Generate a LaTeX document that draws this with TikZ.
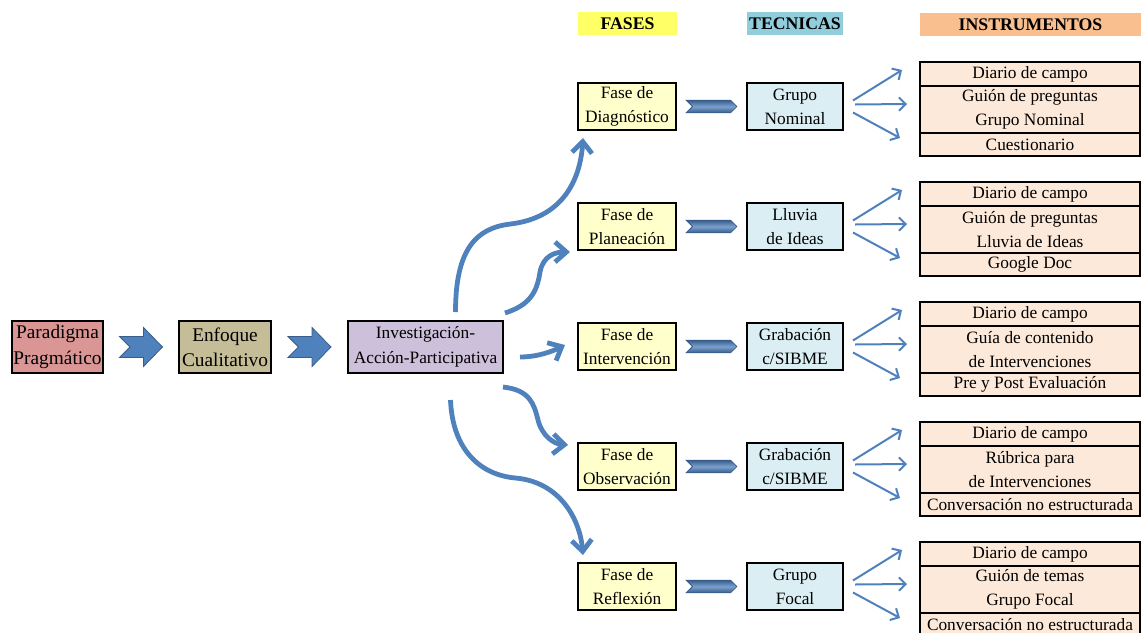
\documentclass[tikz,border=0pt]{standalone}
\usepackage{fontspec}
\setmainfont{Liberation Serif}
\usetikzlibrary{arrows.meta, positioning, calc, shapes.symbols}
\definecolor{parfill}{RGB}{217,150,148}
\definecolor{enffill}{RGB}{196,189,151}
\definecolor{invfill}{RGB}{204,192,218}
\definecolor{fasefill}{RGB}{255,255,204}
\definecolor{tecfill}{RGB}{219,238,244}
\definecolor{insfill}{RGB}{253,233,217}
\definecolor{hfase}{RGB}{255,255,102}
\definecolor{htec}{RGB}{146,205,220}
\definecolor{hins}{RGB}{250,191,143}
\definecolor{azul}{RGB}{79,129,189}
\definecolor{azuloscuro}{RGB}{56,93,138}

\begin{document}
\begin{tikzpicture}[x=0.75pt, y=-0.75pt,
  every node/.style={inner sep=0pt, outer sep=0pt},
  base/.style={draw, line width=1.1pt, align=center,
    font=\fontsize{13}{18}\selectfont},
  inicio/.style={base, minimum height=39pt, font=\fontsize{14.5}{19}\selectfont},
  fase/.style={base, fill=fasefill, minimum width=73.5pt, minimum height=35.25pt},
  tec/.style={base, fill=tecfill, minimum width=72pt, minimum height=35.25pt},
  ins/.style={base, fill=insfill, minimum width=165pt},
  hdr/.style={font=\fontsize{13.3}{15}\selectfont\bfseries, minimum height=17.25pt},
  bloque/.style={fill=azul, draw=azuloscuro, line width=0.6pt},
  chevron/.style={signal, signal from=west, signal to=east, minimum width=38pt,
    minimum height=9.5pt, draw=azuloscuro, line width=0.6pt,
    top color=azuloscuro, bottom color=azuloscuro, middle color=azul!75!white},
  flecha/.style={draw=azul, line width=3.6pt, -{Straight Barb[length=8.5pt,width=15pt]}},
  fina/.style={draw=azul, line width=1.5pt, -{Straight Barb[length=5pt,width=10pt]}}]
  \useasboundingbox (0,0) rectangle (1141,632);
  \clip (0,0) rectangle (1141,632);

  % cadena de la izquierda
  \node[inicio, fill=parfill, minimum width=68.25pt] (par) at (57.5,347) {Paradigma\\Pragmático};
  \node[inicio, fill=enffill, minimum width=69pt, right=57pt of par] (enf) {Enfoque\\Cualitativo};
  \node[inicio, fill=invfill, minimum width=116.25pt, right=57.75pt of enf,
    font=\fontsize{13}{19}\selectfont] (inv) {Investigación-\\Acción-Participativa};
  \foreach \a/\b in {par/enf, enf/inv}
    \path[bloque] ($(\a.east)!.5!(\b.west)$) ++(-21.5,-10.5) -- ++(24,0) -- ++(0,-9)
      -- ++(19,19.5) -- ++(-19,19.5) -- ++(0,-9) -- ++(-24,0) -- ++(10.5,-10.5) -- cycle;

  % encabezados
  \node[hdr, fill=hfase, minimum width=74.25pt] (hf) at (627.5,23.5) {FASES};
  \node[hdr, fill=htec, minimum width=72pt] (ht) at (795,23.5) {TECNICAS};
  \node[hdr, fill=hins, minimum width=165.75pt] (hi) at (1030.5,24.5) {INSTRUMENTOS};

  % fases y tecnicas
  \foreach \n/\fase/\tec [count=\k from 0] in {
      1/{Fase de\\Diagnóstico}/{Grupo\\Nominal},
      2/{Fase de\\Planeación}/{Lluvia\\de Ideas},
      3/{Fase de\\Intervención}/{Grabación\\c/SIBME},
      4/{Fase de\\Observación}/{Grabación\\c/SIBME},
      5/{Fase de\\Reflexión}/{Grupo\\Focal}} {
    \node[fase] (f\n) at (627,106.5+120*\k) {\fase};
    \node[tec] (t\n) at (795,106.5+120*\k) {\tec};
    \node[chevron] (c\n) at ($(f\n.east)!.5!(t\n.west)$) {};
  }

  % instrumentos
  \foreach \n/\a/\b/\c [count=\k from 0] in {
      1/Diario de campo/{Guión de preguntas\\Grupo Nominal}/Cuestionario,
      2/Diario de campo/{Guión de preguntas\\Lluvia de Ideas}/Google Doc,
      3/Diario de campo/{Guía de contenido\\de Intervenciones}/Pre y Post Evaluación,
      4/Diario de campo/{Rúbrica para\\de Intervenciones}/Conversación no estructurada,
      5/Diario de campo/{Guión de temas\\Grupo Focal}/Conversación no estructurada} {
    \node[ins, minimum height=18pt] (ia\n) at (1030,74+120*\k) {\a};
    \node[ins, minimum height=35.25pt, below=0pt of ia\n] (ib\n) {\b};
    \node[ins, minimum height=17.25pt, below=0pt of ib\n] (ic\n) {\c};
    \draw[fina] ($(t\n.east)+(10,-6)$) -- ($(ia\n.north west)+(-18,8)$);
    \draw[fina] ($(t\n.east)+(12,-2)$) -- ($(ib\n.west)+(-13,-5.5)$);
    \draw[fina] ($(t\n.east)+(10,6)$) -- ($(ic\n.north west)+(-20,5)$);
  }

  % flechas curvas hacia las fases
  \draw[flecha] ($(inv.north)+(30,-9)$) .. controls +(0,-62) and +(-35,4) .. ++(55,-88)
    .. controls +(50,-6) and +(-3,45) .. ($(f1.south west)+(5,8)$);
  \draw[flecha] ($(inv.north east)+(2,-8)$) .. controls +(25,-8) and +(-3,20) .. ++(35,-41)
    .. controls +(3,-16) and +(-15,0) .. ($(f2.south west)+(-8,2)$);
  \draw[flecha] ($(inv.east)+(17,10)$) .. controls +(18,0) and +(-12,6) .. ($(f3.west)+(-13,-1.5)$);
  \draw[flecha] ($(inv.south east)+(0,14)$) .. controls +(27,3) and +(-4,-16) .. ++(35,33)
    .. controls +(4,16) and +(-14,-1) .. ($(f4.north west)+(-10,2)$);
  \draw[flecha] ($(inv.south)+(25,27)$) .. controls +(2,50) and +(-35,-3) .. ++(65,78)
    .. controls +(45,4) and +(-3,-35) .. ($(f5.north west)+(5,-8)$);
\end{tikzpicture}
\end{document}
